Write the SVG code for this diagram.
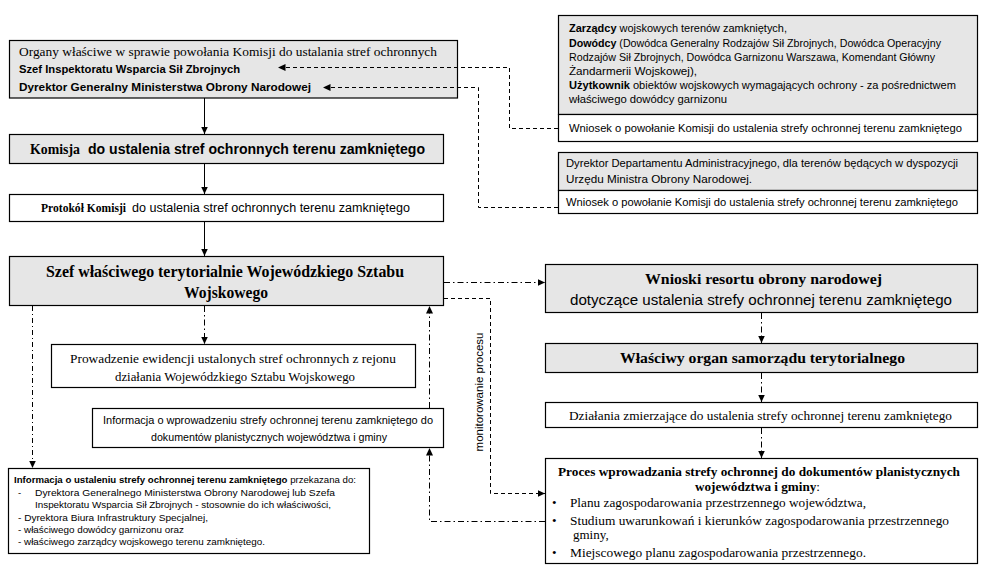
<svg xmlns="http://www.w3.org/2000/svg" width="985" height="574" viewBox="0 0 985 574">
<style>
.g{fill:#e6e6e6;stroke:#000;stroke-width:1.2}
.w{fill:#fff;stroke:#000;stroke-width:1.2}
.s{font-family:"Liberation Serif","Times New Roman",serif;fill:#000}
.a{font-family:"Liberation Sans",Arial,sans-serif;fill:#000}
.b{font-weight:bold}
.c{fill:none;stroke:#000;stroke-width:1}
.dash{stroke-dasharray:4 3}
.dd{stroke-dasharray:6 3 1.5 3}
.ddd{stroke-dasharray:5 3 1 3}
</style>
<defs>
<marker id="ah" markerWidth="8" markerHeight="8" refX="7.5" refY="4" orient="auto" markerUnits="userSpaceOnUse"><path d="M0,0.5 L7.5,4 L0,7.5 Z" fill="#000"/></marker>
</defs>
<rect x="0" y="0" width="985" height="574" fill="#fff"/>

<g id="n-organy">
<rect class="g" x="9.5" y="40.5" width="448" height="57.5"/>
<text class="s" x="19" y="56" font-size="12.5" textLength="418" lengthAdjust="spacingAndGlyphs">Organy właściwe  w sprawie powołania Komisji  do ustalania stref ochronnych</text>
<text class="a b" x="19" y="73" font-size="11.5" textLength="221" lengthAdjust="spacingAndGlyphs">Szef Inspektoratu Wsparcia Sił Zbrojnych</text>
<text class="a b" x="19" y="91" font-size="11.5" textLength="292" lengthAdjust="spacingAndGlyphs">Dyrektor Generalny Ministerstwa Obrony Narodowej</text>
</g>

<g id="n-komisja">
<rect class="g" x="9.5" y="134.5" width="434" height="29"/>
<text class="s b" x="30" y="154" font-size="15" textLength="50" lengthAdjust="spacingAndGlyphs">Komisja</text>
<text class="a b" x="88" y="154" font-size="14" textLength="337" lengthAdjust="spacingAndGlyphs">do ustalenia stref ochronnych terenu zamkniętego</text>
</g>

<g id="n-protokol">
<rect class="w" x="9.5" y="194.5" width="434" height="27"/>
<text class="s b" x="41" y="212" font-size="12.5" textLength="85" lengthAdjust="spacingAndGlyphs">Protokół Komisji</text>
<text class="a" x="132" y="212" font-size="12" textLength="278" lengthAdjust="spacingAndGlyphs">do ustalenia stref ochronnych terenu zamkniętego</text>
</g>

<g id="n-szef">
<rect class="g" x="9.5" y="256.5" width="434" height="49"/>
<text class="s b" x="46" y="277" font-size="16" textLength="358" lengthAdjust="spacingAndGlyphs">Szef właściwego  terytorialnie  Wojewódzkiego  Sztabu</text>
<text class="s b" x="184" y="298" font-size="16" textLength="84" lengthAdjust="spacingAndGlyphs">Wojskowego</text>
</g>

<g id="n-prowadzenie">
<rect class="w" x="51.5" y="344.5" width="364" height="43"/>
<text class="s" x="70" y="363" font-size="13" textLength="326" lengthAdjust="spacingAndGlyphs">Prowadzenie  ewidencji  ustalonych stref ochronnych z rejonu</text>
<text class="s" x="115" y="381" font-size="13" textLength="240" lengthAdjust="spacingAndGlyphs">działania  Wojewódzkiego   Sztabu Wojskowego</text>
</g>

<g id="n-informacja-wprow">
<rect class="w" x="92.5" y="408.5" width="351" height="39"/>
<text class="a" x="103" y="424" font-size="11" textLength="330" lengthAdjust="spacingAndGlyphs">Informacja o wprowadzeniu strefy ochronnej terenu zamkniętego do</text>
<text class="a" x="151" y="441" font-size="11" textLength="236" lengthAdjust="spacingAndGlyphs">dokumentów planistycznych województwa i gminy</text>
</g>

<g id="n-informacja-ustal">
<rect class="w" x="8.5" y="468.5" width="361" height="85"/>
<text class="a" x="14" y="483" font-size="9.5" textLength="342" lengthAdjust="spacingAndGlyphs"><tspan font-weight="bold">Informacja o ustaleniu strefy ochronnej terenu zamkniętego</tspan> przekazana do:</text>
<text class="a" x="18" y="496" font-size="9.5">-</text>
<text class="a" x="35" y="496" font-size="9.5" textLength="300" lengthAdjust="spacingAndGlyphs">Dyrektora Generalnego Ministerstwa Obrony Narodowej lub Szefa</text>
<text class="a" x="35" y="508" font-size="9.5" textLength="296" lengthAdjust="spacingAndGlyphs">Inspektoratu Wsparcia Sił Zbrojnych - stosownie do ich właściwości,</text>
<text class="a" x="18" y="521" font-size="9.5" textLength="190" lengthAdjust="spacingAndGlyphs">- Dyrektora Biura Infrastruktury Specjalnej,</text>
<text class="a" x="18" y="533" font-size="9.5" textLength="166" lengthAdjust="spacingAndGlyphs">- właściwego dowódcy garnizonu oraz</text>
<text class="a" x="18" y="545" font-size="9.5" textLength="247" lengthAdjust="spacingAndGlyphs">- właściwego zarządcy wojskowego terenu zamkniętego.</text>
</g>

<g id="n-zarzadcy">
<rect class="g" x="558.5" y="15.5" width="419" height="99"/>
<text class="a" x="569" y="32" font-size="11" textLength="218" lengthAdjust="spacingAndGlyphs"><tspan font-weight="bold">Zarządcy</tspan> wojskowych terenów zamkniętych,</text>
<text class="a" x="569" y="47" font-size="11" textLength="372" lengthAdjust="spacingAndGlyphs"><tspan font-weight="bold">Dowódcy</tspan> (Dowódca Generalny Rodzajów Sił Zbrojnych, Dowódca Operacyjny</text>
<text class="a" x="569" y="61" font-size="11" textLength="366" lengthAdjust="spacingAndGlyphs">Rodzajów Sił Zbrojnych,   Dowódca Garnizonu  Warszawa, Komendant Główny</text>
<text class="a" x="569" y="75" font-size="11" textLength="128" lengthAdjust="spacingAndGlyphs">Żandarmerii Wojskowej),</text>
<text class="a" x="569" y="89" font-size="11" textLength="387" lengthAdjust="spacingAndGlyphs"><tspan font-weight="bold">Użytkownik</tspan> obiektów wojskowych wymagających ochrony - za pośrednictwem</text>
<text class="a" x="569" y="103" font-size="11" textLength="158" lengthAdjust="spacingAndGlyphs">właściwego dowódcy garnizonu</text>
</g>

<g id="n-wniosek1">
<rect class="w" x="558.5" y="114.5" width="419" height="27"/>
<text class="a" x="569" y="132" font-size="11" textLength="393" lengthAdjust="spacingAndGlyphs">Wniosek o powołanie Komisji do ustalenia strefy ochronnej terenu zamkniętego</text>
</g>

<g id="n-dyrektor">
<rect class="g" x="558.5" y="152.5" width="419" height="38"/>
<text class="a" x="566" y="167" font-size="11" textLength="392" lengthAdjust="spacingAndGlyphs">Dyrektor Departamentu Administracyjnego, dla terenów będących w dyspozycji</text>
<text class="a" x="566" y="183" font-size="11" textLength="186" lengthAdjust="spacingAndGlyphs">Urzędu Ministra Obrony Narodowej.</text>
</g>

<g id="n-wniosek2">
<rect class="w" x="558.5" y="190.5" width="419" height="23"/>
<text class="a" x="566" y="206" font-size="11" textLength="392" lengthAdjust="spacingAndGlyphs">Wniosek o powołanie Komisji do ustalenia strefy ochronnej terenu zamkniętego</text>
</g>

<g id="n-wnioski-resortu">
<rect class="g" x="545.5" y="264.5" width="432" height="48"/>
<text class="s b" x="645" y="284" font-size="15.5" textLength="237" lengthAdjust="spacingAndGlyphs">Wnioski  resortu  obrony  narodowej</text>
<text class="a" x="570" y="305" font-size="14" textLength="382" lengthAdjust="spacingAndGlyphs">dotyczące  ustalenia  strefy ochronnej terenu zamkniętego</text>
</g>

<g id="n-organ">
<rect class="g" x="545.5" y="343.5" width="432" height="29"/>
<text class="s b" x="620" y="363" font-size="15.5" textLength="285" lengthAdjust="spacingAndGlyphs">Właściwy  organ  samorządu  terytorialnego</text>
</g>

<g id="n-dzialania">
<rect class="w" x="545.5" y="402.5" width="432" height="25"/>
<text class="s" x="569" y="420" font-size="13" textLength="383" lengthAdjust="spacingAndGlyphs">Działania  zmierzające   do ustalenia strefy ochronnej terenu zamkniętego</text>
</g>

<g id="n-proces">
<rect class="w" x="545.5" y="458.5" width="432" height="105"/>
<text class="s b" x="558" y="476" font-size="13" textLength="402" lengthAdjust="spacingAndGlyphs">Proces wprowadzania  strefy ochronnej  do dokumentów  planistycznych</text>
<text class="s b" x="695" y="491" font-size="13" textLength="125" lengthAdjust="spacingAndGlyphs">województwa   i gminy<tspan font-weight="normal">:</tspan></text>
<text class="s" x="552" y="507" font-size="13">•</text>
<text class="s" x="570" y="507" font-size="13" textLength="296" lengthAdjust="spacingAndGlyphs">Planu zagospodarowania przestrzennego województwa,</text>
<text class="s" x="552" y="525" font-size="13">•</text>
<text class="s" x="570" y="525" font-size="13" textLength="379" lengthAdjust="spacingAndGlyphs">Studium uwarunkowań i kierunków  zagospodarowania przestrzennego</text>
<text class="s" x="573" y="539" font-size="13">gminy,</text>
<text class="s" x="552" y="557" font-size="13">•</text>
<text class="s" x="570" y="557" font-size="13" textLength="296" lengthAdjust="spacingAndGlyphs">Miejscowego planu zagospodarowania przestrzennego.</text>
</g>

<g id="connectors">
<path class="c" d="M204.5,98 V134" marker-end="url(#ah)"/>
<path class="c" d="M204.5,164 V194" marker-end="url(#ah)"/>
<path class="c" d="M204.5,222 V256" marker-end="url(#ah)"/>
<path class="c dash" d="M558,128.5 H509.5 V67.5 H278" marker-end="url(#ah)"/>
<path class="c dash" d="M558,207.5 H478.5 V87.5 H323" marker-end="url(#ah)"/>
<path class="c dd" d="M444,282.5 H545" marker-end="url(#ah)"/>
<path class="c dash" d="M444,298.5 H490.5 V493.5 H545" marker-end="url(#ah)"/>
<path class="c dd" d="M204.5,306 V344" marker-end="url(#ah)"/>
<path class="c ddd" d="M32.5,306 V468" marker-end="url(#ah)"/>
<path class="c dd" d="M429.5,408 V306" marker-end="url(#ah)"/>
<path class="c dd" d="M545,521.5 H429.5 V448" marker-end="url(#ah)"/>
<path class="c dd" d="M761.5,313 V343" marker-end="url(#ah)"/>
<path class="c dd" d="M761.5,373 V402" marker-end="url(#ah)"/>
<path class="c dd" d="M761.5,428 V458" marker-end="url(#ah)"/>
<text class="a" transform="translate(483,392) rotate(-90)" font-size="11.5" text-anchor="middle">monitorowanie procesu</text>
</g>
</svg>
